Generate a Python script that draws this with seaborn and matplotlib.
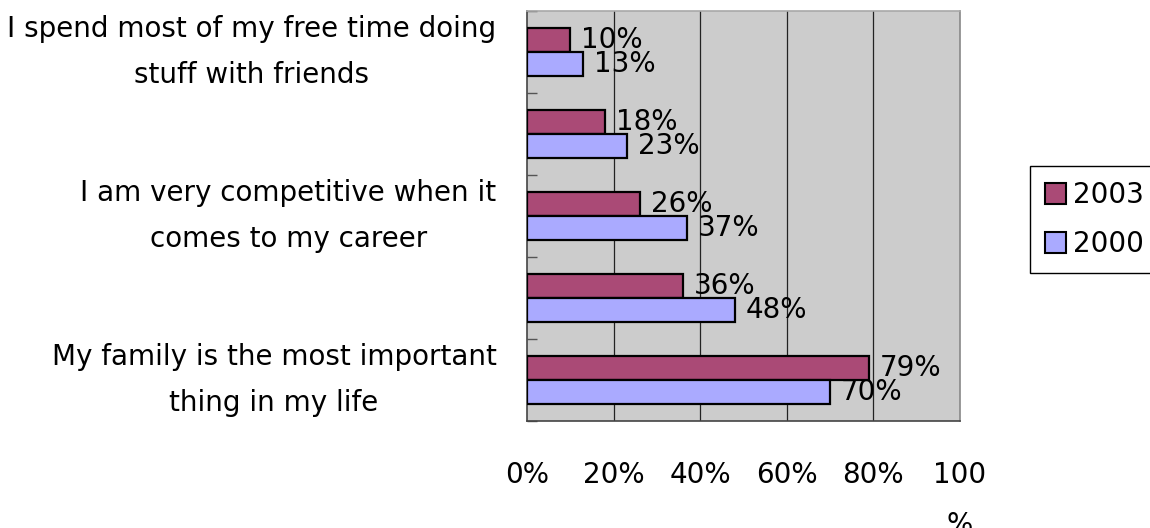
import matplotlib
matplotlib.use("Agg")
import matplotlib.pyplot as plt
from matplotlib.patches import Patch
import pandas as pd
import seaborn as sns

# Survey statements (top to bottom); only every other one carries a label
labels = [
    "I spend most of my free time doing\nstuff with friends",
    "",
    "I am very competitive when it\ncomes to my career",
    "",
    "My family is the most important\nthing in my life",
]
years = ["2003", "2000"]
values_2003 = [10, 18, 26, 36, 79]
values_2000 = [13, 23, 37, 48, 70]
x_ticks = [0, 20, 40, 60, 80, 100]
x_tick_labels = ["0%", "20%", "40%", "60%", "80%", "100\n%"]

colors = {"2003": "#AA4A76", "2000": "#AAAAFF"}

df = pd.DataFrame({
    "item": list(range(len(labels))) * 2,
    "year": ["2003"] * len(labels) + ["2000"] * len(labels),
    "value": values_2003 + values_2000,
})

sns.set_theme(style="white")
plt.rcParams["font.family"] = ["DejaVu Sans"]
plt.rcParams["text.color"] = "black"
plt.rcParams["xtick.labelcolor"] = "black"
plt.rcParams["ytick.labelcolor"] = "black"
FS = 20

fig = plt.figure(figsize=(11.5, 5.28), dpi=100)
ax = fig.add_axes([527 / 1150, 1 - 421 / 528, (960 - 527) / 1150, (421 - 11) / 528])
ax.set_facecolor("#CCCCCC")

sns.barplot(data=df, x="value", y="item", hue="year", hue_order=years,
            orient="h", palette=colors, saturation=1, width=0.585,
            edgecolor="black", linewidth=1.6, legend=False, ax=ax, zorder=3)

# percent labels at bar ends
for cont, vals in zip(ax.containers, [values_2003, values_2000]):
    ax.bar_label(cont, labels=[f"{v}%" for v in vals], padding=8,
                 fontsize=FS, color="black", zorder=4)

ax.set_xlim(0, 100)
ax.set_ylim(len(labels) - 0.5, -0.5)
ax.set_xlabel("")
ax.set_ylabel("")

# vertical grid lines
for xv in x_ticks[1:-1]:
    ax.axvline(xv, color="#222222", lw=0.9, zorder=1)

ax.set_xticks(x_ticks)
ax.set_xticklabels(x_tick_labels, fontsize=FS, linespacing=2.0,
                   multialignment="center")
ax.tick_params(axis="x", direction="in", length=6, width=0.9,
               color="#444444", pad=29)

ax.set_yticks(range(len(labels)))
ax.set_yticklabels(labels, fontsize=FS, linespacing=1.8,
                   multialignment="center", va="center")
ax.set_yticks([i - 0.5 for i in range(len(labels) + 1)], minor=True)
ax.tick_params(axis="y", which="major", length=0, pad=22)
ax.tick_params(axis="y", which="minor", direction="in", length=7,
               width=1.0, color="#555555", left=True)

for side, col in {"left": "#444444", "bottom": "#444444",
                  "top": "#A8A8A8", "right": "#888888"}.items():
    ax.spines[side].set_visible(True)
    ax.spines[side].set_color(col)
    ax.spines[side].set_linewidth(1.2)

handles = [Patch(facecolor=colors[y], edgecolor="black", linewidth=1.5, label=y)
           for y in years]
leg = fig.legend(handles=handles, loc="upper left",
                 bbox_to_anchor=(1030 / 1150, 1 - 166 / 528),
                 fontsize=FS, frameon=True, fancybox=False, framealpha=1,
                 edgecolor="black", handlelength=0.75, handleheight=0.75,
                 handletextpad=0.25, labelspacing=0.75, borderpad=0.55,
                 borderaxespad=0)
leg.get_frame().set_linewidth(1.0)

fig.savefig("out.png", dpi=100)
